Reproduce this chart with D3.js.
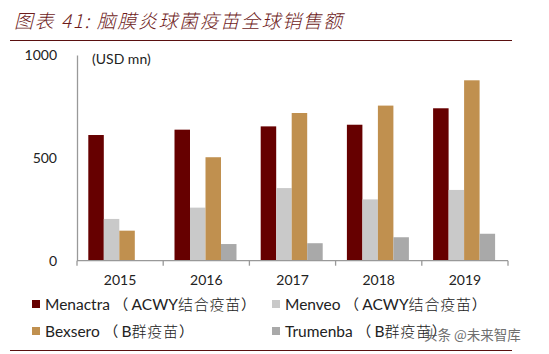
<!DOCTYPE html>
<html><head><meta charset="utf-8">
<script src="https://cdn.jsdelivr.net/npm/d3@7"></script>
<style>
body{margin:0;background:#fff;}
text{font-family:Lato,"Noto Sans CJK SC",sans-serif;}
</style></head>
<body>
<svg id="c" width="549" height="354"></svg>
<script>
const years = ["2015","2016","2017","2018","2019"];
const seriesLatin = ["Menactra","Menveo","Bexsero","Trumenba"];
const seriesTypeLatin = ["ACWY","ACWY","B","B"];
const seriesTypeCJK = ["结合疫苗","结合疫苗","群疫苗","群疫苗"];
const menactra = [611, 637, 653, 661, 741];
const menveo = [203, 258, 353, 298, 344];
const bexsero = [146, 503, 718, 754, 877];
const trumenba = [0, 81, 85, 114, 131];
const yTicks = [0, 500, 1000];
const colors = ["#660000","#c9c9c9","#c0904f","#a9a9a9"];

const values = [menactra, menveo, bexsero, trumenba];
const svg = d3.select("#c");

// title
svg.append("text").attr("x",14).attr("y",28)
  .attr("font-size",19).attr("font-style","italic").attr("fill","#6e1c1c")
  .attr("letter-spacing",1.6)
  .style("font-family","'Noto Sans CJK SC',sans-serif").attr("font-weight",300)
  .text("图表 41: 脑膜炎球菌疫苗全球销售额");
svg.append("line").attr("x1",10).attr("x2",512).attr("y1",40.5).attr("y2",40.5)
  .attr("stroke","#5a1010").attr("stroke-width",1.2);
svg.append("line").attr("x1",10).attr("x2",512).attr("y1",350.5).attr("y2",350.5)
  .attr("stroke","#5a1010").attr("stroke-width",1.2);

const x = d3.scaleBand().domain(years).range([77,508]).paddingInner(0).paddingOuter(0);
const y = d3.scaleLinear().domain([0,1000]).range([260.7,55]);
const xs = d3.scaleBand().domain(d3.range(4)).range([11.3, 73.3]);

const g = svg.append("g");
years.forEach((yr,i)=>{
  values.forEach((s,k)=>{
    if(s[i]<=0) return;
    g.append("rect").attr("x",x(yr)+xs(k)).attr("width",xs.bandwidth())
      .attr("y",y(s[i])).attr("height",y(0)-y(s[i])).attr("fill",colors[k]);
  });
});

// y axis
const ya = d3.axisLeft(y).tickValues(yTicks).tickSize(0).tickPadding(20).tickFormat(d3.format("d"));
const yg = svg.append("g").attr("transform","translate(77,0)").call(ya);
yg.select(".domain").attr("stroke","#999").attr("stroke-width",1.3);
yg.selectAll("text").attr("font-size",14).attr("fill","#222")
  .style("font-family","Lato,sans-serif");

// x axis
const xa = d3.axisBottom(x).tickSize(0).tickPadding(14);
const xg = svg.append("g").attr("transform","translate(0,260.7)").call(xa);
xg.select(".domain").attr("stroke","#999").attr("stroke-width",1.3).attr("d","M77,0H508");
xg.selectAll("text").attr("font-size",14).attr("fill","#222");
const bounds = years.map(d=>x(d)).concat([x.range()[1]]);
xg.selectAll("line.bt").data(bounds).enter().append("line").attr("class","bt")
  .attr("x1",d=>d).attr("x2",d=>d).attr("y1",0).attr("y2",5).attr("stroke","#999").attr("stroke-width",1.3);

svg.append("text").attr("x",92).attr("y",64).attr("font-size",14).attr("fill","#222").text("(USD mn)");

// legend
const legPos = [[32,310],[272,310],[32,337],[272,337]];
seriesLatin.forEach((n,k)=>{
  const [lx,ly] = legPos[k];
  svg.append("rect").attr("x",lx).attr("y",ly-10).attr("width",8).attr("height",8).attr("fill",colors[k]);
  const t = svg.append("text").attr("x",lx+13).attr("y",ly).attr("font-size",15.5).attr("fill","#222");
  t.append("tspan").text(n + " ");
  t.append("tspan").attr("font-size",14.5).style("font-family","'Noto Sans CJK SC',sans-serif").text("（ ");
  t.append("tspan").text(seriesTypeLatin[k]);
  t.append("tspan").attr("font-size",15).attr("letter-spacing",0.8).style("font-family","'Noto Sans CJK SC',sans-serif").attr("font-weight",300).text(seriesTypeCJK[k]);
  t.append("tspan").attr("font-size",14.5).style("font-family","'Noto Sans CJK SC',sans-serif").text("）");
});

// watermark
svg.append("text").attr("x",424).attr("y",340).attr("font-size",13.5).attr("fill","#555")
  .attr("opacity",0.85).style("font-family","'Noto Sans CJK SC',sans-serif").text("头条 @未来智库");
</script>
</body></html>
